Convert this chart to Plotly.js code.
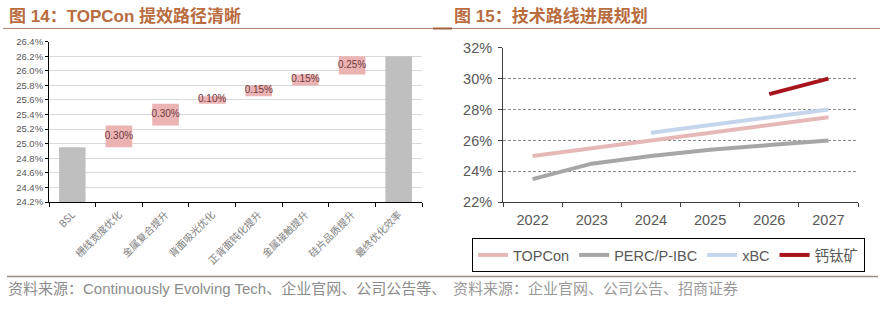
<!DOCTYPE html>
<html>
<head>
<meta charset="utf-8">
<script src="https://cdn.plot.ly/plotly-3.0.1.min.js"></script>
<style>html,body{margin:0;padding:0;background:#fff;}#chart{width:883px;height:325px;}</style>
</head>
<body>
<div id="chart"></div>
<script>
// ---- Left chart (waterfall) data ----
const categories = ['BSL','栅线宽度优化','金属复合提升','背面吸光优化','正背面钝化提升','金属接触提升','硅片品质提升','最终优化效率'];
const baseEff = 24.95;
const gains = [0.30, 0.30, 0.10, 0.15, 0.15, 0.25];
const gainLabels = ['0.30%','0.30%','0.10%','0.15%','0.15%','0.25%'];
const finalEff = 26.2;

// ---- Right chart (lines) data ----
const years = ['2022','2023','2024','2025','2026','2027'];
const topcon = [25.0, 25.5, 26.0, 26.5, 27.0, 27.5];
const percIbc = [23.5, 24.5, 25.0, 25.4, 25.7, 26.0];
const xbc = [null, null, 26.5, 27.0, 27.5, 28.0];
const perovskite = [null, null, null, null, 29.0, 30.0];

const PINK_BAR = '#EBB3B4';
const GRAY_BAR = '#BFBFBF';

// build waterfall bars
const barY = [baseEff];
const barBase = [0];
const barColors = [GRAY_BAR];
const midY = [];
let cum = baseEff;
gains.forEach(g => {
  barY.push(g);
  barBase.push(cum);
  barColors.push(PINK_BAR);
  midY.push(cum + g / 2);
  cum += g;
});
barY.push(finalEff);
barBase.push(0);
barColors.push(GRAY_BAR);

const FONT = 'Liberation Sans, Arial, Noto Sans CJK SC, sans-serif';

const traces = [
  {
    type: 'bar', x: categories, y: barY, base: barBase,
    marker: {color: barColors, line: {width: 0}},
    width: 0.57, xaxis: 'x', yaxis: 'y', showlegend: false, hoverinfo: 'skip'
  },
  {
    type: 'scatter', mode: 'text', x: categories.slice(1, 1 + gains.length), y: midY,
    text: gainLabels, textposition: 'middle center',
    textfont: {size: 10, color: '#6E3B3D', family: FONT},
    xaxis: 'x', yaxis: 'y', showlegend: false, hoverinfo: 'skip'
  },
  {type: 'scatter', mode: 'lines', name: 'TOPCon', x: years, y: topcon,
   line: {color: '#E6B9B8', width: 4}, xaxis: 'x2', yaxis: 'y2'},
  {type: 'scatter', mode: 'lines', name: 'PERC/P-IBC', x: years, y: percIbc,
   line: {color: '#A6A6A6', width: 4}, xaxis: 'x2', yaxis: 'y2'},
  {type: 'scatter', mode: 'lines', name: 'xBC', x: years, y: xbc,
   line: {color: '#C3D6EC', width: 4}, xaxis: 'x2', yaxis: 'y2', connectgaps: false},
  {type: 'scatter', mode: 'lines', name: '钙钛矿', x: years, y: perovskite,
   line: {color: '#A8141C', width: 4}, xaxis: 'x2', yaxis: 'y2', connectgaps: false}
];

const W = 883, H = 325;
const px = v => v / W;
const py = v => 1 - v / H;

const layout = {
  width: W, height: H,
  margin: {l: 0, r: 0, t: 0, b: 0},
  paper_bgcolor: '#ffffff', plot_bgcolor: '#ffffff',
  font: {family: FONT, color: '#595959'},
  barmode: 'overlay',
  showlegend: true,
  xaxis: {
    domain: [px(49), px(422)], anchor: 'y', type: 'category',
    range: [-0.5, 7.5], tickangle: -45, tickson: 'boundaries',
    ticks: 'outside', ticklen: 4, tickcolor: '#000',
    showline: true, linecolor: '#000', linewidth: 1, showgrid: false,
    tickfont: {size: 10, color: '#808080', family: 'Noto Sans CJK SC, ' + FONT},
    ticklabelstandoff: 2, fixedrange: true
  },
  yaxis: {
    domain: [py(202), py(41.7)], anchor: 'x',
    range: [24.2, 26.4], tick0: 24.2, dtick: 0.2, tickformat: '.1f', ticksuffix: '%',
    showline: true, linecolor: '#000', linewidth: 1,
    ticks: 'outside', ticklen: 3, tickcolor: '#000',
    showgrid: true, gridcolor: '#D9D9D9', gridwidth: 1, zeroline: false,
    tickfont: {size: 9.5, color: '#595959'}, fixedrange: true
  },
  xaxis2: {
    domain: [px(503), px(858)], anchor: 'y2', type: 'category',
    range: [-0.5, 5.5], tickson: 'boundaries',
    ticks: 'outside', ticklen: 4, tickcolor: '#404040',
    showline: true, linecolor: '#404040', linewidth: 1, showgrid: false,
    tickfont: {size: 14.5, color: '#595959'}, ticklabelstandoff: 4, fixedrange: true
  },
  yaxis2: {
    domain: [py(202.3), py(47.7)], anchor: 'x2',
    range: [22, 32], dtick: 2, ticksuffix: '%',
    showline: true, linecolor: '#404040', linewidth: 1,
    ticks: 'outside', ticklen: 4, tickcolor: '#404040',
    showgrid: true, gridcolor: '#8C8C8C', gridwidth: 1, griddash: '3px,2px', zeroline: false,
    tickfont: {size: 14.5, color: '#595959'}, ticklabelstandoff: 3, fixedrange: true
  },
  legend: {
    orientation: 'h', x: px(472), xanchor: 'left', y: py(238), yanchor: 'top',
    bordercolor: '#000', borderwidth: 1, bgcolor: '#fff',
    font: {size: 14.5, color: '#595959'}, itemwidth: 30, tracegroupgap: 0
  },
  shapes: [
    {type: 'line', xref: 'paper', yref: 'paper', x0: px(3), x1: px(880), y0: py(28.5), y1: py(28.5),
     line: {color: '#B58A74', width: 1}},
    {type: 'line', xref: 'paper', yref: 'paper', x0: px(433), x1: px(452), y0: py(28.5), y1: py(28.5),
     line: {color: '#A0603A', width: 2}},
    {type: 'line', xref: 'paper', yref: 'paper', x0: px(7), x1: px(878), y0: py(276.5), y1: py(276.5),
     line: {color: '#9C8A80', width: 1.5}}
  ],
  annotations: [
    {xref: 'paper', yref: 'paper', x: px(7), y: py(17), xanchor: 'left', yanchor: 'middle', showarrow: false,
     text: '<b>图 14：TOPCon 提效路径清晰</b>', font: {size: 17, color: '#B86C40', family: FONT}},
    {xref: 'paper', yref: 'paper', x: px(452), y: py(17), xanchor: 'left', yanchor: 'middle', showarrow: false,
     text: '<b>图 15：技术路线进展规划</b>', font: {size: 17, color: '#B86C40', family: FONT}},
    {xref: 'paper', yref: 'paper', x: px(6), y: py(288), xanchor: 'left', yanchor: 'middle', showarrow: false,
     text: '资料来源：Continuously Evolving Tech、企业官网、公司公告等、', font: {size: 15, color: '#8C8C8C', family: FONT}},
    {xref: 'paper', yref: 'paper', x: px(451), y: py(288), xanchor: 'left', yanchor: 'middle', showarrow: false,
     text: '资料来源：企业官网、公司公告、招商证券', font: {size: 15, color: '#9A9A9A', family: FONT}}
  ]
};

Plotly.newPlot('chart', traces, layout, {displayModeBar: false, staticPlot: true});
</script>
</body>
</html>
